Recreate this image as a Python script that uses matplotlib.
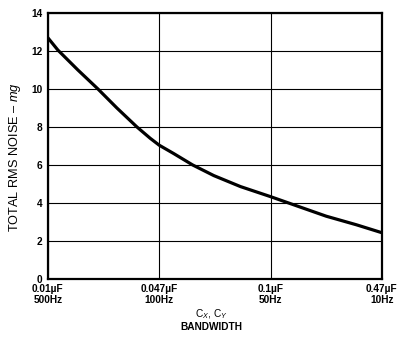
import matplotlib
matplotlib.use('Agg')
import matplotlib.pyplot as plt

plt.rcParams['font.family'] = 'Liberation Sans'
plt.rcParams['mathtext.fontset'] = 'custom'
plt.rcParams['mathtext.rm'] = 'Liberation Sans'
plt.rcParams['mathtext.it'] = 'Liberation Sans:italic'

# x positions are the four evenly spaced capacitor / bandwidth settings
pos = [0, 0.09, 0.27, 0.45, 0.62, 0.8, 0.92, 1.0, 1.13, 1.3, 1.49, 1.73, 2.0, 2.16, 2.5, 2.77, 3.0]
noise = [12.7, 12.05, 11.0, 10.0, 9.0, 8.0, 7.4, 7.04, 6.6, 6.0, 5.44, 4.86, 4.33, 4.0, 3.3, 2.85, 2.43]

tick_pos = [0, 1, 2, 3]
tick_labels = ['0.01\u00b5F\n500Hz', '0.047\u00b5F\n100Hz', '0.1\u00b5F\n50Hz', '0.47\u00b5F\n10Hz']
y_ticks = [0, 2, 4, 6, 8, 10, 12, 14]

fig = plt.figure(figsize=(4.02, 3.43), dpi=100)
ax = fig.add_axes([0.119, 0.187, 0.831, 0.775])

ax.plot(pos, noise, color='black', lw=2.3, solid_capstyle='butt', zorder=3)

ax.set_xlim(0, 3)
ax.set_ylim(0, 14)
ax.set_xticks(tick_pos)
ax.set_xticklabels(tick_labels, fontsize=7.3, fontweight='bold', linespacing=1.1)
ax.set_yticks(y_ticks)
ax.set_yticklabels([str(v) for v in y_ticks], fontsize=7.3, fontweight='bold')
ax.tick_params(length=0, pad=4)
ax.grid(True, color='black', lw=0.8)

for s in ax.spines.values():
    s.set_linewidth(1.6)

ax.set_ylabel('TOTAL RMS NOISE \u2013 $mg$', fontsize=9.2)
ax.yaxis.set_label_coords(-0.075, 0.46)

fig.text(0.525, 0.085, r'C$_X$, C$_Y$', fontsize=7.3, ha='center', va='center')
fig.text(0.527, 0.047, 'BANDWIDTH', fontsize=7.3, fontweight='bold', ha='center', va='center')

fig.savefig('out.png', dpi=100)
